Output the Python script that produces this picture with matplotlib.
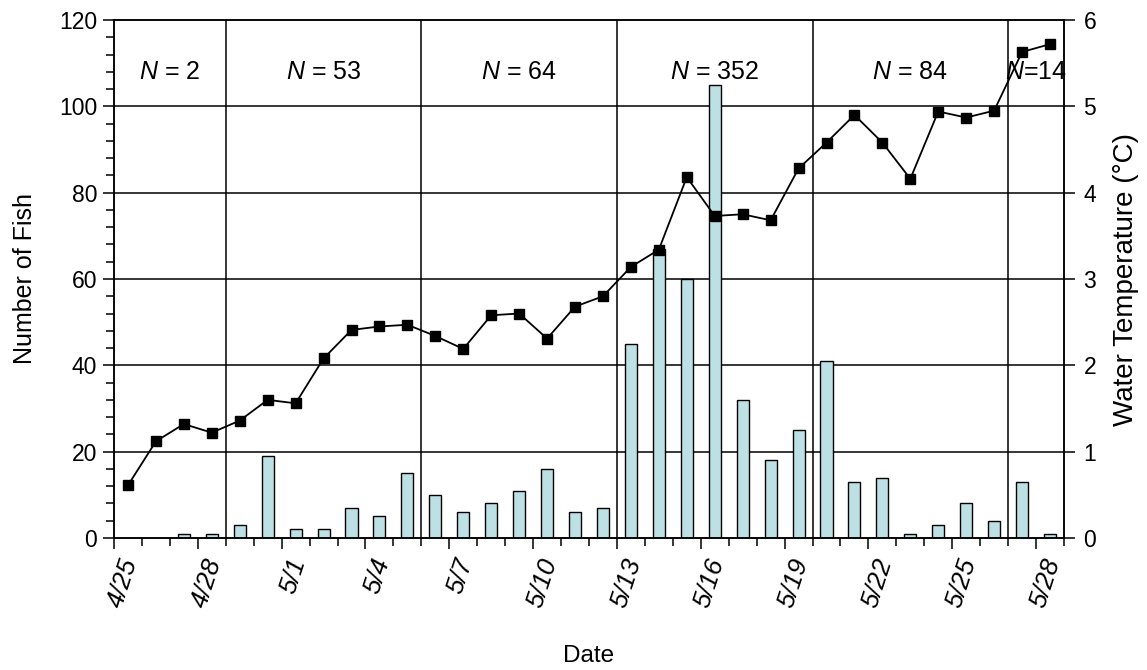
import matplotlib.pyplot as plt
from matplotlib.ticker import MultipleLocator, FixedLocator
from matplotlib.transforms import ScaledTranslation

plt.rcParams["font.family"] = ["Liberation Sans", "DejaVu Sans"]
plt.rcParams["mathtext.fontset"] = "custom"
plt.rcParams["mathtext.it"] = "Liberation Sans:italic"
plt.rcParams["mathtext.rm"] = "Liberation Sans"

dates = ["4/25", "4/26", "4/27", "4/28", "4/29", "4/30",
         "5/1", "5/2", "5/3", "5/4", "5/5", "5/6", "5/7", "5/8", "5/9",
         "5/10", "5/11", "5/12", "5/13", "5/14", "5/15", "5/16", "5/17",
         "5/18", "5/19", "5/20", "5/21", "5/22", "5/23", "5/24", "5/25",
         "5/26", "5/27", "5/28"]
fish = [0, 0, 1, 1, 3, 19, 2, 2, 7, 5, 15, 10, 6, 8, 11, 16, 6, 7,
        45, 67, 60, 105, 32, 18, 25, 41, 13, 14, 1, 3, 8, 4, 13, 1]
temp = [0.61, 1.12, 1.32, 1.22, 1.36, 1.60, 1.56, 2.08, 2.41, 2.45,
        2.47, 2.34, 2.19, 2.58, 2.60, 2.31, 2.68, 2.80, 3.14, 3.34,
        4.18, 3.73, 3.75, 3.68, 4.28, 4.58, 4.90, 4.58, 4.16, 4.94,
        4.87, 4.95, 5.63, 5.72]
# index of the first day of each new sampling period
period_starts = [0, 4, 11, 18, 25, 32]

x = list(range(len(dates)))

fig = plt.figure(figsize=(11.47, 6.70), dpi=100)
ax = fig.add_axes([114 / 1147, 1 - 538 / 670, 950 / 1147, 518 / 670])

ax.set_xlim(-0.5, len(dates) - 0.5)
ax.set_ylim(0, 120)

# grid and period dividers
for v in range(20, 120, 20):
    ax.axhline(v, color="black", lw=1.1, zorder=1)
for s in period_starts[1:]:
    ax.axvline(s - 0.5, color="black", lw=1.1, zorder=1)

ax.bar(x, fish, width=0.43, color="#bce0e3", edgecolor="black",
       linewidth=1.0, zorder=2)

# N labels
bounds = period_starts + [len(dates)]
for a, b in zip(bounds[:-1], bounds[1:]):
    n = sum(fish[a:b])
    label = r"$N$ = %d" % n if b - a > 2 else r"$N$=%d" % n
    ax.text((a + b - 1) / 2, 108, label, ha="center", va="center",
            fontsize=18, zorder=3)

ax.yaxis.set_major_locator(MultipleLocator(20))
ax.yaxis.set_minor_locator(MultipleLocator(4))
ax.tick_params(axis="y", which="major", length=8, width=1.1, labelsize=16.5,
               pad=4)
ax.tick_params(axis="y", which="minor", length=6, width=1.1)

ax.xaxis.set_major_locator(FixedLocator([i - 0.5 for i in range(0, len(dates), 3)]))
ax.xaxis.set_minor_locator(FixedLocator([i - 0.5 for i in range(len(dates) + 1)]))
ax.set_xticklabels(dates[::3], rotation=72, ha="right", va="center",
                   rotation_mode="anchor", fontsize=18.5, style="italic")
ax.tick_params(axis="x", which="major", length=8, width=1.1, pad=7)
ax.tick_params(axis="x", which="minor", length=6, width=1.1)
shift = ScaledTranslation(0.17, 0, fig.dpi_scale_trans)
for lab in ax.get_xticklabels():
    lab.set_transform(lab.get_transform() + shift)

for sp in ax.spines.values():
    sp.set_linewidth(1.1)

ax.set_ylabel("Number of Fish", fontsize=18, labelpad=16)
ax.set_xlabel("Date", fontsize=17.5, labelpad=25)

ax2 = ax.twinx()
ax2.set_ylim(0, 6)
ax2.plot(x, temp, color="black", lw=1.3, marker="s", markersize=7.5,
         zorder=4)
ax2.yaxis.set_major_locator(MultipleLocator(1))
ax2.tick_params(axis="y", length=8, width=1.1, labelsize=16.5, pad=6)
ax2.set_ylabel("Water Temperature (\u00b0C)", fontsize=20, labelpad=12)
for sp in ax2.spines.values():
    sp.set_linewidth(1.1)

fig.savefig("out.png", dpi=100)
